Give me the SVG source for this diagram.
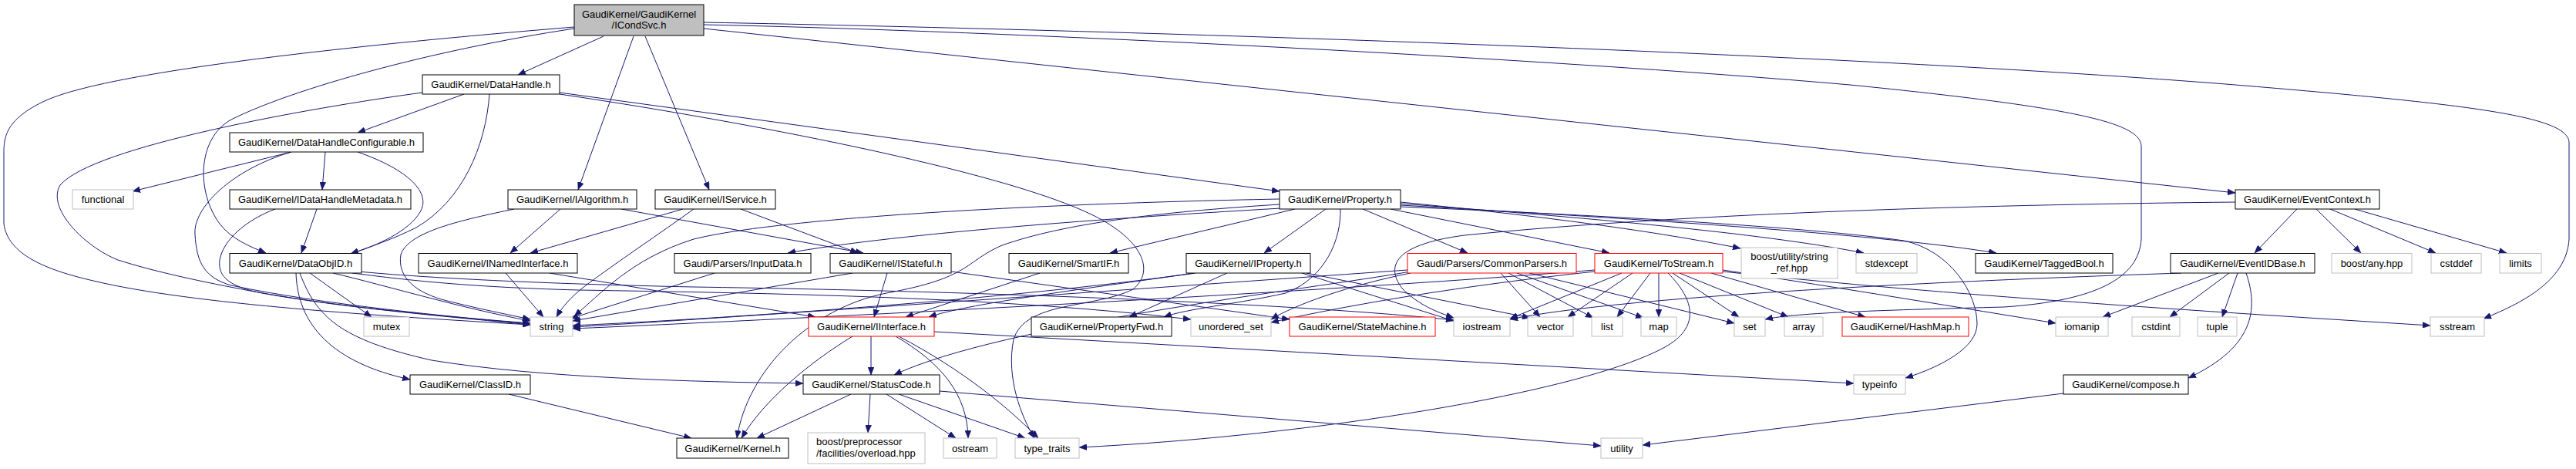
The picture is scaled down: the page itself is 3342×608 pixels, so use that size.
<svg xmlns="http://www.w3.org/2000/svg" width="3342" height="608" viewBox="0 0 3342 608">
<style>
.node rect{fill:#fff;stroke-width:1}
.k rect{stroke:#000}
.x rect{stroke:#bfbfbf}
.r rect{stroke:#f00}
#n-root rect{fill:#bfbfbf;stroke:#000}
text{font-family:"Liberation Sans",Arial,Helvetica,sans-serif;font-size:13px;fill:#000;text-anchor:middle}
.edges path{fill:none;stroke:#191970;stroke-width:1;marker-end:url(#ah)}
</style>
<defs>
<marker id="ah" markerWidth="10" markerHeight="8" refX="10" refY="4" orient="auto" markerUnits="userSpaceOnUse"><path d="M0,0 L10,4 L0,8 z" fill="#191970" stroke="#191970" stroke-width="0.5"/></marker>
</defs>
<rect width="3342" height="608" fill="#fff"/>
<g class="edges">
<path d="M783,47 L672,97"/>
<path d="M822,47 L750,246"/>
<path d="M837,47 L920,246"/>
<path d="M745,37 C560,65 380,115 300,155 C255,180 255,250 285,290 C300,310 325,320 345,328"/>
<path d="M745,35 C500,55 150,90 60,130 C5,155 5,180 5,200 L5,290 C10,330 60,350 121,364 C250,395 500,410 688,421"/>
<path d="M913,37 L2900,250"/>
<path d="M913,32 C1300,40 2000,75 2400,110 C2700,140 2778,160 2778,190 L2778,310 C2775,360 2720,390 2600,398 C2450,402 2330,405 2290,414"/>
<path d="M913,29 C1500,40 2400,70 2900,110 C3200,135 3333,150 3333,185 L3333,310 C3330,360 3280,390 3222,413"/>
<path d="M602,122 L464,172"/>
<path d="M635,122 C630,190 600,260 540,295 C510,310 480,320 455,329"/>
<path d="M548,120 C400,140 120,190 78,240 C60,270 110,320 153,337 C200,352 260,365 330,378 C450,400 600,412 688,419"/>
<path d="M726,120 L1660,248"/>
<path d="M726,122 C950,155 1300,220 1420,280 C1480,310 1500,350 1470,375 C1420,400 1330,390 1315,440 C1305,490 1325,540 1342,568"/>
<path d="M378,197 L172,248"/>
<path d="M422,197 L418,246"/>
<path d="M378,197 C300,220 250,270 253,304 C255,340 265,360 300,370 C420,395 580,410 688,420"/>
<path d="M464,197 C530,220 560,250 545,275 C530,300 490,318 455,329"/>
<path d="M411,271 L391,328"/>
<path d="M357,271 C320,285 290,310 285,337 C282,360 300,372 340,380 C450,400 600,412 688,421"/>
<path d="M384,354 C386,420 430,470 532,492"/>
<path d="M389,354 C410,410 440,440 560,467 C700,490 900,495 1042,497"/>
<path d="M402,354 L482,411"/>
<path d="M432,354 C500,370 600,400 688,416"/>
<path d="M457,354 C520,362 600,372 750,376 C1000,380 1300,385 1545,414"/>
<path d="M465,352 C550,360 700,368 900,372 C1300,378 1700,395 1886,415"/>
<path d="M727,271 L662,328"/>
<path d="M806,271 L1120,328"/>
<path d="M667,271 C600,285 530,300 520,330 C515,360 540,380 580,390 C620,400 660,408 688,414"/>
<path d="M886,271 L688,328"/>
<path d="M961,271 L1113,328"/>
<path d="M900,271 C860,300 800,340 760,370 C740,385 728,400 722,411"/>
<path d="M656,354 L705,411"/>
<path d="M713,354 L1058,411"/>
<path d="M927,354 L740,413"/>
<path d="M1151,354 L1134,411"/>
<path d="M1106,354 L743,416"/>
<path d="M1234,352 L1673,414"/>
<path d="M1349,354 L1175,411"/>
<path d="M1551,354 C1400,375 1250,395 1205,411"/>
<path d="M1592,354 L1465,411"/>
<path d="M1549,354 C1300,390 900,415 743,422"/>
<path d="M1689,354 L1886,416"/>
<path d="M1695,354 L1985,412"/>
<path d="M1662,270 C1400,285 1150,305 1022,328"/>
<path d="M1680,271 L1440,328"/>
<path d="M1720,271 L1640,328"/>
<path d="M1660,258 C1300,265 1000,285 900,310 C820,335 780,380 745,410"/>
<path d="M1660,265 C1500,275 1380,290 1300,318 C1250,340 1260,360 1150,380 C1050,400 970,480 956,568"/>
<path d="M1739,271 C1740,310 1720,360 1668,380 C1600,395 1540,400 1510,411"/>
<path d="M1768,271 L1904,328"/>
<path d="M1804,271 L2088,328"/>
<path d="M1817,262 C2000,280 2150,300 2258,322"/>
<path d="M1817,264 C2100,285 2300,305 2418,328"/>
<path d="M1817,266 C2150,285 2450,305 2590,328"/>
<path d="M1817,268 C2100,280 2350,295 2470,312 C2530,325 2565,380 2565,420 C2565,450 2520,475 2472,490"/>
<path d="M2900,262 C2600,265 2200,275 1900,305 C1800,318 1800,350 1820,375 C1840,395 1865,405 1886,412"/>
<path d="M1830,352 C1700,375 1300,420 1160,486"/>
<path d="M1826,350 C1400,380 900,415 743,424"/>
<path d="M1830,354 C1750,370 1680,395 1649,414"/>
<path d="M1947,354 L1998,411"/>
<path d="M1957,354 L2067,412"/>
<path d="M1968,354 L2132,412"/>
<path d="M1984,354 L2250,419"/>
<path d="M2069,350 C1700,380 1000,415 743,426"/>
<path d="M2104,354 L1959,413"/>
<path d="M2118,354 L2034,411"/>
<path d="M2141,354 L2098,411"/>
<path d="M2152,354 L2152,411"/>
<path d="M2164,354 C2200,390 2205,425 2160,450 C2050,510 1700,565 1400,580"/>
<path d="M2170,354 L2256,411"/>
<path d="M2179,354 L2320,411"/>
<path d="M2220,354 L2420,411"/>
<path d="M2235,350 C2400,375 2550,400 2667,419"/>
<path d="M2235,352 C2500,380 2800,400 3153,422"/>
<path d="M2069,352 C1900,370 1750,395 1649,418"/>
<path d="M1129,511 L1126,561"/>
<path d="M1150,511 L1240,568"/>
<path d="M1166,511 L1330,568"/>
<path d="M1104,511 L982,568"/>
<path d="M1219,507 L2077,578"/>
<path d="M1130,436 L1130,486"/>
<path d="M1106,436 C1050,470 990,520 962,568"/>
<path d="M1162,436 C1220,470 1255,510 1256,568"/>
<path d="M1166,436 C1250,480 1310,530 1347,568"/>
<path d="M1212,430 L2405,497"/>
<path d="M660,511 L897,568"/>
<path d="M2980,271 L2925,328"/>
<path d="M3005,271 L3063,328"/>
<path d="M3023,271 L3160,328"/>
<path d="M3055,271 L3252,328"/>
<path d="M2878,354 L2728,411"/>
<path d="M2892,354 L2815,411"/>
<path d="M2903,354 L2883,411"/>
<path d="M2914,354 C2930,400 2925,450 2839,490"/>
<path d="M2830,354 C2500,365 2100,385 1959,414"/>
<path d="M2677,510 L2131,577"/>
</g>
<g id="n-root" class="node"><rect x="745" y="6" width="168" height="40"/><text x="829" y="23">GaudiKernel/GaudiKernel</text><text x="829" y="37">/ICondSvc.h</text></g>
<g id="n-datahandle" class="node k"><rect x="548" y="97" width="178" height="25"/><text x="637" y="114">GaudiKernel/DataHandle.h</text></g>
<g id="n-dhc" class="node k"><rect x="298" y="172" width="251" height="25"/><text x="423.5" y="189">GaudiKernel/DataHandleConfigurable.h</text></g>
<g id="n-functional" class="node x"><rect x="94" y="246" width="79" height="25"/><text x="133.5" y="263">functional</text></g>
<g id="n-idhm" class="node k"><rect x="298" y="246" width="235" height="25"/><text x="415.5" y="263">GaudiKernel/IDataHandleMetadata.h</text></g>
<g id="n-ialgorithm" class="node k"><rect x="659" y="246" width="167" height="25"/><text x="742.5" y="263">GaudiKernel/IAlgorithm.h</text></g>
<g id="n-iservice" class="node k"><rect x="850" y="246" width="156" height="25"/><text x="928" y="263">GaudiKernel/IService.h</text></g>
<g id="n-property" class="node k"><rect x="1660" y="246" width="157" height="25"/><text x="1738.5" y="263">GaudiKernel/Property.h</text></g>
<g id="n-eventcontext" class="node k"><rect x="2900" y="246" width="187" height="25"/><text x="2993.5" y="263">GaudiKernel/EventContext.h</text></g>
<g id="n-dataobjid" class="node k"><rect x="298" y="328.5" width="171" height="25.5"/><text x="383.5" y="346">GaudiKernel/DataObjID.h</text></g>
<g id="n-inamed" class="node k"><rect x="543" y="328.5" width="206" height="25.5"/><text x="646" y="346">GaudiKernel/INamedInterface.h</text></g>
<g id="n-inputdata" class="node k"><rect x="875" y="328.5" width="177" height="25.5"/><text x="963.5" y="346">Gaudi/Parsers/InputData.h</text></g>
<g id="n-istateful" class="node k"><rect x="1077" y="328.5" width="157" height="25.5"/><text x="1155.5" y="346">GaudiKernel/IStateful.h</text></g>
<g id="n-smartif" class="node k"><rect x="1309" y="328.5" width="155" height="25.5"/><text x="1386.5" y="346">GaudiKernel/SmartIF.h</text></g>
<g id="n-iproperty" class="node k"><rect x="1539" y="328.5" width="161" height="25.5"/><text x="1619.5" y="346">GaudiKernel/IProperty.h</text></g>
<g id="n-commonparsers" class="node r"><rect x="1826" y="328.5" width="219" height="25.5"/><text x="1935.5" y="346">Gaudi/Parsers/CommonParsers.h</text></g>
<g id="n-tostream" class="node r"><rect x="2069" y="328.5" width="166" height="25.5"/><text x="2152" y="346">GaudiKernel/ToStream.h</text></g>
<g id="n-stringref" class="node x"><rect x="2259" y="321" width="125" height="40"/><text x="2321.5" y="337">boost/utility/string</text><text x="2321.5" y="352">_ref.hpp</text></g>
<g id="n-stdexcept" class="node x"><rect x="2408" y="328.5" width="79" height="25.5"/><text x="2447.5" y="346">stdexcept</text></g>
<g id="n-taggedbool" class="node k"><rect x="2563" y="328.5" width="178" height="25.5"/><text x="2652" y="346">GaudiKernel/TaggedBool.h</text></g>
<g id="n-eventidbase" class="node k"><rect x="2816" y="328.5" width="187" height="25.5"/><text x="2909.5" y="346">GaudiKernel/EventIDBase.h</text></g>
<g id="n-boostany" class="node x"><rect x="3025" y="328.5" width="104" height="25.5"/><text x="3077" y="346">boost/any.hpp</text></g>
<g id="n-cstddef" class="node x"><rect x="3154" y="328.5" width="65" height="25.5"/><text x="3186.5" y="346">cstddef</text></g>
<g id="n-limits" class="node x"><rect x="3243" y="328.5" width="54" height="25.5"/><text x="3270" y="346">limits</text></g>
<g id="n-mutex" class="node x"><rect x="472" y="411" width="59" height="25"/><text x="501.5" y="428">mutex</text></g>
<g id="n-string" class="node x"><rect x="688" y="411" width="55" height="25"/><text x="715.5" y="428">string</text></g>
<g id="n-iinterface" class="node r"><rect x="1049" y="411" width="163" height="25"/><text x="1130.5" y="428">GaudiKernel/IInterface.h</text></g>
<g id="n-propertyfwd" class="node k"><rect x="1338" y="411" width="182" height="25"/><text x="1429" y="428">GaudiKernel/PropertyFwd.h</text></g>
<g id="n-unorderedset" class="node x"><rect x="1545" y="411" width="104" height="25"/><text x="1597" y="428">unordered_set</text></g>
<g id="n-statemachine" class="node r"><rect x="1673" y="411" width="189" height="25"/><text x="1767.5" y="428">GaudiKernel/StateMachine.h</text></g>
<g id="n-iostream" class="node x"><rect x="1886" y="411" width="73" height="25"/><text x="1922.5" y="428">iostream</text></g>
<g id="n-vector" class="node x"><rect x="1982" y="411" width="59" height="25"/><text x="2011.5" y="428">vector</text></g>
<g id="n-list" class="node x"><rect x="2065" y="411" width="40" height="25"/><text x="2085" y="428">list</text></g>
<g id="n-map" class="node x"><rect x="2129" y="411" width="46" height="25"/><text x="2152" y="428">map</text></g>
<g id="n-set" class="node x"><rect x="2250" y="411" width="40" height="25"/><text x="2270" y="428">set</text></g>
<g id="n-array" class="node x"><rect x="2315" y="411" width="50" height="25"/><text x="2340" y="428">array</text></g>
<g id="n-hashmap" class="node r"><rect x="2390" y="411" width="164" height="25"/><text x="2472" y="428">GaudiKernel/HashMap.h</text></g>
<g id="n-iomanip" class="node x"><rect x="2667" y="411" width="68" height="25"/><text x="2701" y="428">iomanip</text></g>
<g id="n-cstdint" class="node x"><rect x="2766" y="411" width="62" height="25"/><text x="2797" y="428">cstdint</text></g>
<g id="n-tuple" class="node x"><rect x="2851" y="411" width="51" height="25"/><text x="2876.5" y="428">tuple</text></g>
<g id="n-sstream" class="node x"><rect x="3153" y="411" width="70" height="25"/><text x="3188" y="428">sstream</text></g>
<g id="n-classid" class="node k"><rect x="532" y="486" width="156" height="25"/><text x="610" y="503">GaudiKernel/ClassID.h</text></g>
<g id="n-statuscode" class="node k"><rect x="1042" y="486" width="177" height="25"/><text x="1130.5" y="503">GaudiKernel/StatusCode.h</text></g>
<g id="n-typeinfo" class="node x"><rect x="2405" y="486" width="67" height="25"/><text x="2438.5" y="503">typeinfo</text></g>
<g id="n-compose" class="node k"><rect x="2677" y="486" width="162" height="25"/><text x="2758" y="503">GaudiKernel/compose.h</text></g>
<g id="n-kernel" class="node k"><rect x="878" y="568" width="145" height="26"/><text x="950.5" y="585.5">GaudiKernel/Kernel.h</text></g>
<g id="n-overload" class="node x"><rect x="1048" y="561" width="152" height="40"/><text x="1059" y="577" style="text-anchor:start">boost/preprocessor</text><text x="1059" y="592" style="text-anchor:start">/facilities/overload.hpp</text></g>
<g id="n-ostream" class="node x"><rect x="1224" y="568" width="69" height="26"/><text x="1258.5" y="585.5">ostream</text></g>
<g id="n-typetraits" class="node x"><rect x="1317" y="568" width="83" height="26"/><text x="1358.5" y="585.5">type_traits</text></g>
<g id="n-utility" class="node x"><rect x="2077" y="568" width="54" height="26"/><text x="2104" y="585.5">utility</text></g>
</svg>
